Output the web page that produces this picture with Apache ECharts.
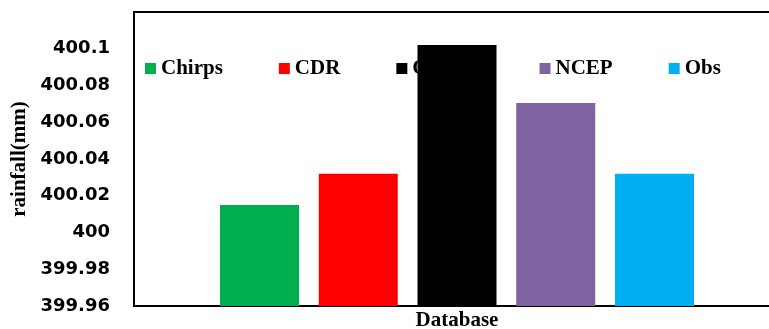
<!DOCTYPE html>
<html><head><meta charset="utf-8">
<script src="https://cdn.jsdelivr.net/npm/echarts@6/dist/echarts.min.js"></script>
<style>html,body{margin:0;padding:0;background:#fff}#c{width:769px;height:329px}</style>
</head><body><div id="c"></div>
<script>
const categories = ['Database'];
const seriesNames = ['Chirps', 'CDR', 'CRUTS', 'NCEP', 'Obs'];
const seriesValues = [400.015, 400.032, 400.102, 400.0705, 400.032];
const seriesColors = ['#00B050', '#FF0000', '#000000', '#8064A2', '#00B0F0'];
const yMin = 399.96, yMax = 400.12, yStep = 0.02;

const chart = echarts.init(document.getElementById('c'));
chart.setOption({
  animation: false,
  grid: { left: 134, right: -11, top: 12, bottom: 23, containLabel: false, outerBoundsMode: 'none',
          show: true, borderColor: '#000', borderWidth: 2, z: 0 },
  legend: {
    z: 1, left: 140, top: 53, itemWidth: 11, itemHeight: 11, itemGap: 56, icon: 'rect',
    textStyle: { fontFamily: 'Liberation Serif', fontWeight: 'bold', fontSize: 21, color: '#000' },
    data: seriesNames
  },
  xAxis: {
    type: 'category', data: categories,
    name: 'Database', nameLocation: 'middle', nameGap: 4,
    nameTextStyle: { fontFamily: 'Liberation Serif', fontWeight: 'bold', fontSize: 21, color: '#000' },
    axisLine: { show: true, lineStyle: { color: '#000', width: 2 } },
    axisTick: { show: false }, axisLabel: { show: false }
  },
  yAxis: {
    type: 'value', min: yMin, max: yMax, interval: yStep,
    name: 'rainfall(mm)', nameLocation: 'middle', nameGap: 90,
    nameTextStyle: { fontFamily: 'Liberation Serif', fontWeight: 'bold', fontSize: 21, color: '#000' },
    axisLine: { show: true, lineStyle: { color: '#000', width: 2 } },
    axisTick: { show: false }, splitLine: { show: false },
    axisLabel: {
      showMaxLabel: false, margin: 24,
      fontFamily: 'DejaVu Sans', fontWeight: 'bold', fontSize: 18, color: '#000',
      formatter: v => String(+v.toFixed(2))
    }
  },
  series: seriesNames.map((n, i) => ({
    name: n, type: 'bar', z: 5, barWidth: 79, barGap: '25%',
    itemStyle: { color: seriesColors[i] },
    data: [seriesValues[i]]
  }))
});
</script></body></html>
